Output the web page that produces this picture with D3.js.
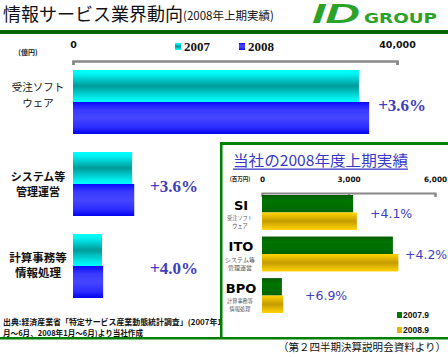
<!DOCTYPE html>
<html><head><meta charset="utf-8">
<script src="https://cdn.jsdelivr.net/npm/d3@7"></script>
<style>body{margin:0;background:#fff}svg{display:block}</style>
</head><body>
<script>
// ---- data ----
const categories = ["受注ソフトウェア", "システム等管理運営", "計算事務等情報処理"];
const categoryLines = [["受注ソフト", "ウェア"], ["システム等", "管理運営"], ["計算事務等", "情報処理"]];
const seriesNames = ["2007", "2008"];
const values2007 = [35300, 7300, 3580];
const values2008 = [36560, 7560, 3720];
const growthLabels = ["+3.6%", "+3.6%", "+4.0%"];
const mainTicks = [0, 40000];

const segments = ["SI", "ITO", "BPO"];
const segmentSub = [["受注ソフト", "ウェア"], ["システム等", "管理運営"], ["計算事務等", "情報処理"]];
const insetSeries = ["2007.9", "2008.9"];
const inset2007 = [3160, 4540, 690];
const inset2008 = [3290, 4730, 738];
const insetGrowth = ["+4.1%", "+4.2%", "+6.9%"];
const insetTicks = [0, 3000, 6000];

const W = 448, H = 357;
const svg = d3.select("body").append("svg").attr("width", W).attr("height", H);
const JP = "'Noto Sans CJK JP', sans-serif";

const defs = svg.append("defs");
function grad(id, stops) {
  const g = defs.append("linearGradient").attr("id", id).attr("x1", 0).attr("y1", 0).attr("x2", 0).attr("y2", 1);
  stops.forEach(s => g.append("stop").attr("offset", s[0]).attr("stop-color", s[1]));
}
grad("gCyan", [[0, "#00ffff"], [0.12, "#00f4f4"], [0.5, "#009a9a"], [0.88, "#00eeee"], [1, "#00ffff"]]);
grad("gBlue", [[0, "#0a0aff"], [0.25, "#3a3aff"], [0.5, "#4646ff"], [0.8, "#2c2cff"], [1, "#0000f0"]]);
grad("gGreen", [[0, "#005a00"], [0.3, "#007400"], [0.7, "#006e00"], [1, "#006000"]]);
grad("gGold", [[0, "#ffd400"], [0.15, "#f0c400"], [0.5, "#c49c00"], [0.85, "#f0c400"], [1, "#ffd000"]]);

// ---- header ----
svg.append("text").attr("x", 3).attr("y", 21).attr("font-family", JP).attr("font-size", 18)
  .attr("fill", "#111").text("情報サービス業界動向");
svg.append("text").attr("x", 183).attr("y", 20).attr("font-family", JP).attr("font-size", 11.5)
  .attr("fill", "#111").text("(2008年上期実績)");
svg.append("rect").attr("x", 0).attr("y", 30).attr("width", W).attr("height", 4).attr("fill", "#006400");
svg.append("text").attr("x", 312).attr("y", 23).attr("font-family", "'Liberation Sans', sans-serif")
  .attr("font-size", 27).attr("font-weight", "bold").attr("font-style", "italic").attr("fill", "#2ba32b")
  .attr("textLength", 48).attr("lengthAdjust", "spacingAndGlyphs").text("ID");
svg.append("text").attr("x", 364).attr("y", 23).attr("font-family", "'DejaVu Sans', sans-serif")
  .attr("font-size", 14).attr("font-weight", "bold").attr("fill", "#2ba32b")
  .attr("textLength", 73).attr("lengthAdjust", "spacingAndGlyphs").text("GROUP");

// ---- main chart ----
const x = d3.scaleLinear().domain([0, 40000]).range([73, 397]);
const y = d3.scaleBand().domain(categories).range([70, 298]).paddingInner(0.22).paddingOuter(0);
const ys = d3.scaleBand().domain(seriesNames).range([0, y.bandwidth()]);

const axis = d3.axisTop(x).tickValues(mainTicks).tickSizeInner(-4).tickSizeOuter(-4).tickPadding(13)
  .tickFormat(d3.format(","));
const ga = svg.append("g").attr("transform", "translate(0,61)").call(axis);
ga.select(".domain").attr("stroke", "#888").attr("stroke-width", 2.5);
ga.selectAll(".tick line").attr("stroke", "#888").attr("stroke-width", 2.5);
ga.selectAll(".tick text").attr("font-family", "'DejaVu Sans', sans-serif").attr("font-size", 9.5)
  .attr("font-weight", "bold").attr("fill", "#111");
svg.append("text").attr("x", 28).attr("y", 55).attr("text-anchor", "middle").attr("font-family", JP)
  .attr("font-size", 7).attr("font-weight", "bold").attr("fill", "#222").text("(億円)");

// legend
const legX = [175, 239];
const legFill = ["url(#gCyan)", "url(#gBlue)"];
seriesNames.forEach((s, i) => {
  svg.append("rect").attr("x", legX[i]).attr("y", 43).attr("width", 6).attr("height", 7).attr("fill", legFill[i]);
  svg.append("text").attr("x", legX[i] + 9).attr("y", 51).attr("font-family", "'Liberation Serif', serif")
    .attr("font-size", 13).attr("font-weight", "bold").attr("fill", "#111").text(s);
});

categories.forEach((c, i) => {
  const y0 = y(c);
  svg.append("rect").attr("x", x(0)).attr("y", y0 + ys("2007")).attr("width", x(values2007[i]) - x(0))
    .attr("height", ys.bandwidth()).attr("fill", "url(#gCyan)");
  svg.append("rect").attr("x", x(0)).attr("y", y0 + ys("2008")).attr("width", x(values2008[i]) - x(0))
    .attr("height", ys.bandwidth()).attr("fill", "url(#gBlue)");
});
// category labels
const labelY = [[87, 103], [177, 192], [258, 273]];
const labelSize = [10.5, 11, 11.5];
categoryLines.forEach((lines, i) => {
  lines.forEach((l, j) => {
    svg.append("text").attr("x", 38).attr("y", labelY[i][j]).attr("dy", "0.35em").attr("text-anchor", "middle")
      .attr("font-family", JP).attr("font-size", labelSize[i]).attr("font-weight", i === 0 ? "normal" : "bold")
      .attr("fill", "#111").text(l);
  });
});
// growth labels
const growthX = [x(values2008[0]) + 9, 150, 150];
categories.forEach((c, i) => {
  svg.append("text").attr("x", growthX[i]).attr("y", y(c) + ys("2008") + (i === 0 ? 3 : 2)).attr("dy", "0.35em")
    .attr("font-family", "'Liberation Serif', serif").attr("font-size", 17).attr("font-weight", "bold")
    .attr("fill", "#3e3ebe").text(growthLabels[i]);
});

// source note
svg.append("text").attr("x", 3).attr("y", 325).attr("font-family", JP).attr("font-size", 7.6).attr("font-weight", "bold")
  .attr("fill", "#111").attr("textLength", 219).attr("lengthAdjust", "spacingAndGlyphs")
  .text("出典:経済産業省「特定サービス産業動態統計調査」(2007年1");
svg.append("text").attr("x", 3).attr("y", 336).attr("font-family", JP).attr("font-size", 7.6).attr("font-weight", "bold")
  .attr("fill", "#111").attr("textLength", 140).attr("lengthAdjust", "spacingAndGlyphs")
  .text("月〜6月、2008年1月〜6月)より当社作成");

// ---- inset ----
svg.append("rect").attr("x", 220).attr("y", 142).attr("width", W - 220).attr("height", 3).attr("fill", "#008000");
svg.append("rect").attr("x", 220).attr("y", 142).attr("width", 2.5).attr("height", 196).attr("fill", "#008000");
svg.append("rect").attr("x", 0).attr("y", 337).attr("width", W).attr("height", 2.5).attr("fill", "#008000");

svg.append("text").attr("x", 233).attr("y", 166).attr("font-family", JP).attr("font-size", 15)
  .attr("fill", "#3a3ac8").attr("textLength", 175).attr("lengthAdjust", "spacingAndGlyphs").text("当社の2008年度上期実績");
svg.append("rect").attr("x", 233).attr("y", 168.5).attr("width", 175).attr("height", 1.3).attr("fill", "#3a3ac8");

const xi = d3.scaleLinear().domain([0, 6000]).range([262, 435]);
const yi = d3.scaleBand().domain(segments).range([195, 313]).paddingInner(0.16).paddingOuter(0);
const yis = d3.scaleBand().domain(insetSeries).range([0, yi.bandwidth()]);

const axisI = d3.axisTop(xi).tickValues(insetTicks).tickSizeInner(-4).tickSizeOuter(-4).tickPadding(11)
  .tickFormat(d3.format(","));
const gi = svg.append("g").attr("transform", "translate(0,193)").call(axisI);
gi.select(".domain").attr("stroke", "#888").attr("stroke-width", 2);
gi.selectAll(".tick line").attr("stroke", "#888").attr("stroke-width", 2);
gi.selectAll(".tick text").attr("font-family", "'DejaVu Sans', sans-serif").attr("font-size", 7.3)
  .attr("font-weight", "bold").attr("fill", "#111");
svg.append("text").attr("x", 240).attr("y", 181).attr("text-anchor", "middle").attr("font-family", JP)
  .attr("font-size", 5.5).attr("font-weight", "bold").attr("fill", "#222").text("(百万円)");

segments.forEach((s, i) => {
  const y0 = yi(s);
  svg.append("rect").attr("x", xi(0)).attr("y", y0 + yis("2007.9")).attr("width", xi(inset2007[i]) - xi(0))
    .attr("height", yis.bandwidth()).attr("fill", "url(#gGreen)");
  svg.append("rect").attr("x", xi(0)).attr("y", y0 + yis("2008.9")).attr("width", xi(inset2008[i]) - xi(0))
    .attr("height", yis.bandwidth()).attr("fill", "url(#gGold)");
  // segment labels
  svg.append("text").attr("x", 241).attr("y", y0 + 10).attr("dy", "0.35em").attr("text-anchor", "middle")
    .attr("font-family", "'DejaVu Sans', sans-serif").attr("font-size", 13).attr("font-weight", "bold")
    .attr("fill", "#000").text(s);
  segmentSub[i].forEach((l, j) => {
    svg.append("text").attr("x", 240).attr("y", y0 + 23 + j * 8).attr("dy", "0.35em").attr("text-anchor", "middle")
      .attr("font-family", JP).attr("font-size", i === 1 ? 6 : 5.2).attr("fill", "#555").text(l);
  });
});
const insetGrowthX = [370, 405, 305];
segments.forEach((s, i) => {
  svg.append("text").attr("x", insetGrowthX[i]).attr("y", yi(s) + (i === 2 ? yis.bandwidth() : yis.bandwidth() + 1)).attr("dy", "0.35em")
    .attr("font-family", "'DejaVu Sans', sans-serif").attr("font-size", 12.5)
    .attr("fill", "#3e3ec4").text(insetGrowth[i]);
});
// inset legend
const ilegFill = ["#007a00", "#e8b800"];
insetSeries.forEach((s, i) => {
  svg.append("rect").attr("x", 397).attr("y", 312 + i * 15).attr("width", 5).attr("height", 6).attr("fill", ilegFill[i]);
  svg.append("text").attr("x", 403).attr("y", 318 + i * 15).attr("font-family", "'Liberation Sans', sans-serif")
    .attr("font-size", 8.5).attr("font-weight", "bold").attr("fill", "#111").text(s);
});

// footer
svg.append("text").attr("x", 446).attr("y", 351).attr("text-anchor", "end").attr("font-family", JP)
  .attr("font-size", 10.5).attr("fill", "#111").attr("textLength", 168).attr("lengthAdjust", "spacingAndGlyphs")
  .text("（第２四半期決算説明会資料より）");
</script>
</body></html>
